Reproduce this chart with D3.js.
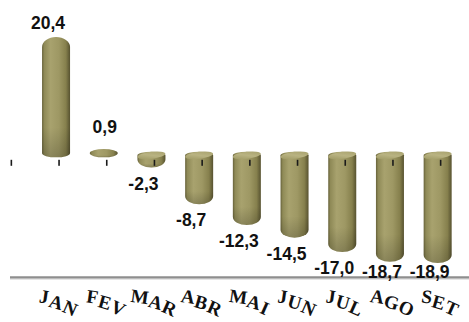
<!DOCTYPE html>
<html>
<head>
<meta charset="utf-8">
<script src="https://cdn.jsdelivr.net/npm/d3@7"></script>
<style>
  html, body { margin: 0; padding: 0; background: #fff; }
  svg { display: block; }
</style>
</head>
<body>
<svg id="chart" width="469" height="322"></svg>
<script>
// Monthly variation (%)
const months = ["JAN", "FEV", "MAR", "ABR", "MAI", "JUN", "JUL", "AGO", "SET"];
const values = [20.4, 0.9, -2.3, -8.7, -12.3, -14.5, -17.0, -18.7, -18.9];
const valueLabels = ["20,4", "0,9", "-2,3", "-8,7", "-12,3", "-14,5", "-17,0", "-18,7", "-18,9"];

const W = 469, H = 322;
const svg = d3.select("#chart");

const x = d3.scaleBand().domain(months).range([32.2, 461.5]).padding(0);
const y = d3.scaleLinear().domain([-20, 25]).range([269.3, 10.55]);
const bw = x.bandwidth();
const cx = m => x(m) + bw / 2;
const barW = 28;
const floorY = 277.5;

const defs = svg.append("defs");
const side = defs.append("linearGradient").attr("id", "cyl").attr("x1", 0).attr("x2", 1).attr("y1", 0).attr("y2", 0);
[["0%", "#67623a"], ["8%", "#8f8a57"], ["30%", "#a8a26e"], ["60%", "#9e9864"], ["85%", "#86804d"], ["100%", "#575230"]]
  .forEach(([o, c]) => side.append("stop").attr("offset", o).attr("stop-color", c));
const topFace = defs.append("linearGradient").attr("id", "capTop").attr("x1", 0).attr("x2", 1).attr("y1", 1).attr("y2", 0);
[["0%", "#9a955f"], ["50%", "#b9b382"], ["100%", "#a39d68"]]
  .forEach(([o, c]) => topFace.append("stop").attr("offset", o).attr("stop-color", c));
const shade = defs.append("linearGradient").attr("id", "endShade").attr("x1", 0).attr("x2", 0).attr("y1", 0).attr("y2", 1);
[["0%", "#000", 0], ["75%", "#000", 0], ["100%", "#000", 0.18]]
  .forEach(([o, c, a]) => shade.append("stop").attr("offset", o).attr("stop-color", c).attr("stop-opacity", a));

// axis floor line
svg.append("line")
  .attr("x1", 10).attr("x2", W).attr("y1", floorY).attr("y2", floorY)
  .attr("stroke", "#8e8e8e").attr("stroke-width", 2.6);
svg.append("line")
  .attr("x1", 10).attr("x2", W).attr("y1", floorY + 1.6).attr("y2", floorY + 1.6)
  .attr("stroke", "#d4d4d4").attr("stroke-width", 1);

// cylinder outline: body with a rounded top and bottom end
function cylPath(c, yTop, yBot, ryT, ryB) {
  const l = c - barW / 2, r = c + barW / 2, rx = barW / 2;
  return `M${l},${yTop + ryT} A${rx},${ryT} 0 0 1 ${r},${yTop + ryT}` +
         ` L${r},${yBot - ryB} A${rx},${ryB} 0 0 1 ${l},${yBot - ryB} Z`;
}

const zero = y(0);
const tickG = svg.append("g");
const bars = svg.append("g");

months.forEach((m, i) => {
  const v = values[i];
  const c = cx(m);
  let yTop, yBot, ryT, ryB;
  if (v >= 0) {
    yTop = y(v); yBot = zero + 3;
    const h = yBot - yTop;
    ryT = Math.min(10, h / 2); ryB = Math.min(4, h / 2);
  } else {
    yTop = zero - 2.5; yBot = y(v);
    const h = yBot - yTop;
    ryT = 3.5; ryB = Math.max(0, Math.min(8, h - ryT));
  }
  const d = cylPath(c, yTop, yBot, ryT, ryB);
  bars.append("path").attr("d", d).attr("fill", "url(#cyl)");
  bars.append("path").attr("d", d).attr("fill", "url(#endShade)");
  if (v < 0) {
    bars.append("ellipse")
      .attr("cx", c).attr("cy", yTop + ryT)
      .attr("rx", barW / 2).attr("ry", ryT)
      .attr("transform", `rotate(-7,${c},${yTop + ryT})`)
      .attr("fill", "url(#capTop)");
  }
});

// tick marks along the zero level (one extra before the first month)
const tickXs = [x(months[0]) - bw / 2 + 3].concat(months.map(m => cx(m) + 3));
tickXs.forEach(tx => {
  tickG.append("rect").attr("x", tx - 0.8).attr("y", zero + 5.5).attr("width", 1.6).attr("height", 6).attr("fill", "#1a1a1a");
});
// ticks show through the negative cylinders' front face
months.forEach((m, i) => {
  if (values[i] < 0) {
    bars.append("rect").attr("x", cx(m) + 3 - 0.8).attr("y", zero + 5.5).attr("width", 1.6).attr("height", 6).attr("fill", "#1a1a1a");
  }
});

// value labels
const labels = svg.append("g")
  .attr("font-family", "'Liberation Sans', Arial, sans-serif")
  .attr("font-weight", "bold").attr("font-size", 17.5).attr("fill", "#111")
  .attr("text-anchor", "middle");
months.forEach((m, i) => {
  const v = values[i];
  const ly = v >= 0 ? y(v) - 8 - (v < 5 ? 8 : 0) : Math.min(y(v) + 22, floorY);
  labels.append("text").attr("x", cx(m) - (v >= 0 && v < 5 ? -1 : 8)).attr("y", ly).text(valueLabels[i]);
});

// month names set on a descending curve, letter by letter
const mg = svg.append("g")
  .attr("font-family", "'Liberation Serif', 'Times New Roman', serif")
  .attr("font-weight", "bold").attr("font-size", 19).attr("fill", "#111");
months.forEach(m => {
  const letters = m.split("");
  const widths = letters.map(ch => {
    const t = mg.append("text").text(ch);
    const w = t.node().getComputedTextLength();
    t.remove();
    return w;
  });
  const total = d3.sum(widths) * 0.95;
  let px = cx(m) - total / 2;
  letters.forEach((ch, k) => {
    const ang = 8 + 8 * k;
    const by = 303 + 5.5 * k;
    const lx = px + widths[k] / 2;
    mg.append("text")
      .attr("text-anchor", "middle")
      .attr("transform", `translate(${lx},${by}) rotate(${ang})`)
      .text(ch);
    px += widths[k] * 0.95;
  });
});
</script>
</body>
</html>
